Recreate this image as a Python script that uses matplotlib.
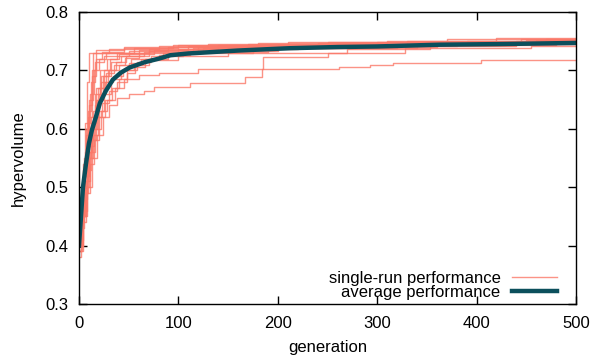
import matplotlib
matplotlib.use("Agg")
import matplotlib.pyplot as plt

plt.rcParams["font.family"] = ["Liberation Sans", "DejaVu Sans"]

# single runs: (generation, hypervolume) breakpoints, stepped
runs = [
    [(0, .40), (2, .46), (4, .53), (7, .60), (10, .65), (14, .73), (60, .735), (110, .742), (250, .748), (450, .752)],
    [(0, .41), (3, .47), (6, .55), (9, .62), (13, .70), (17, .735), (45, .740), (130, .745), (330, .750), (420, .755)],
    [(0, .39), (2, .44), (5, .50), (8, .56), (12, .61), (16, .66), (21, .70), (28, .72), (40, .728), (75, .735), (150, .742), (300, .746), (480, .750)],
    [(0, .40), (4, .45), (8, .50), (13, .55), (18, .59), (24, .62), (30, .64), (38, .652), (50, .660), (65, .664), (75, .672), (112, .678), (167, .689), (184, .703), (262, .705), (293, .709), (316, .712), (404, .718)],
    [(0, .40), (3, .45), (7, .51), (11, .56), (16, .60), (22, .63), (28, .65), (36, .67), (45, .685), (60, .692), (80, .696), (120, .702), (185, .723), (250, .730), (328, .738), (455, .742)],
    [(0, .41), (3, .46), (6, .52), (10, .57), (15, .62), (20, .66), (26, .68), (34, .69), (44, .70), (55, .71), (70, .718), (100, .724), (150, .730), (270, .737), (353, .742), (440, .748)],
    [(0, .38), (2, .43), (5, .49), (9, .55), (13, .60), (18, .65), (24, .69), (32, .715), (42, .725), (65, .732), (120, .740), (260, .745), (400, .749)],
    [(0, .42), (3, .49), (6, .56), (9, .63), (12, .68), (16, .715), (25, .725), (50, .733), (90, .740), (200, .744), (350, .748), (470, .753)],
    [(0, .40), (2, .45), (5, .51), (8, .57), (12, .62), (17, .67), (22, .69), (30, .70), (40, .71), (52, .72), (90, .73), (175, .738), (320, .744), (430, .748)],
    [(0, .39), (4, .46), (8, .53), (12, .58), (17, .62), (23, .645), (30, .665), (38, .68), (48, .70), (58, .715), (72, .725), (105, .732), (190, .740), (360, .746)],
    [(0, .41), (2, .47), (4, .54), (6, .61), (8, .68), (10, .73), (30, .737), (80, .741), (170, .745), (300, .749), (460, .752)],
    [(0, .40), (3, .46), (6, .52), (10, .58), (14, .63), (19, .67), (25, .70), (31, .72), (38, .73), (70, .737), (140, .743), (240, .747), (390, .751)],
    [(0, .40), (3, .44), (7, .49), (11, .54), (15, .58), (20, .62), (26, .65), (33, .67), (40, .685), (48, .695), (56, .705), (66, .72), (85, .73), (125, .738), (230, .743), (410, .747)],
    [(0, .41), (2, .47), (5, .55), (8, .61), (11, .66), (15, .70), (20, .72), (27, .73), (55, .738), (100, .744), (210, .749), (370, .753)],
    [(0, .39), (3, .45), (6, .50), (10, .55), (14, .59), (19, .63), (25, .66), (32, .685), (42, .70), (50, .712), (62, .72), (80, .726), (112, .733), (200, .739), (340, .744), (480, .748)],
    [(0, .40), (2, .46), (4, .52), (7, .59), (10, .64), (13, .69), (17, .72), (23, .732), (45, .738), (95, .743), (180, .747), (310, .751), (445, .754)],
    [(0, .41), (4, .48), (8, .55), (12, .60), (16, .64), (21, .67), (27, .695), (35, .71), (46, .722), (60, .73), (100, .736), (220, .741), (380, .745)],
    [(0, .40), (3, .45), (6, .51), (9, .56), (13, .61), (17, .65), (22, .68), (29, .70), (37, .715), (47, .725), (70, .733), (115, .739), (280, .744), (440, .750)],
]

# average performance
avg_gen = [0, 2, 4, 7, 10, 13, 17, 21, 27, 34, 42, 51, 66, 80, 92, 110, 130, 160, 212, 260, 300, 363, 420, 500]
avg_hv = [0.40, 0.45, 0.50, 0.54, 0.575, 0.598, 0.62, 0.644, 0.665, 0.684, 0.696, 0.705, 0.714, 0.72, 0.726,
          0.729, 0.731, 0.734, 0.738, 0.740, 0.741, 0.744, 0.745, 0.747]

run_color = "#fa7868"
avg_color = "#0b4f5c"

fig = plt.figure(figsize=(5.92, 3.62), dpi=100)
ax = fig.add_axes([79 / 592, 58 / 362, 497 / 592, 292 / 362])

for i, r in enumerate(runs):
    g = [p[0] for p in r] + [500]
    v = [p[1] for p in r] + [r[-1][1]]
    ax.plot(g, v, drawstyle="steps-post", color=run_color, lw=1.0, alpha=0.8,
            label="single-run performance" if i == 0 else None)

ax.plot(avg_gen, avg_hv, color=avg_color, lw=3.2, label="average performance")

ax.set_xlim(0, 500)
ax.set_ylim(0.3, 0.8)
ax.set_xticks([0, 100, 200, 300, 400, 500])
ax.set_yticks([0.3, 0.4, 0.5, 0.6, 0.7, 0.8])
ax.tick_params(direction="in", length=6, width=1, top=True, right=True, labelsize=12)
ax.tick_params(axis="y", pad=8)
ax.tick_params(axis="x", pad=9)
for s in ax.spines.values():
    s.set_linewidth(1.0)

ax.set_xlabel("generation", fontsize=12, labelpad=6)
ax.set_ylabel("hypervolume", fontsize=12, labelpad=14)

leg = ax.legend(loc="lower right", bbox_to_anchor=(0.962, 0.014), frameon=False, markerfirst=False,
                fontsize=12, handlelength=2.7, labelspacing=-0.05, borderaxespad=0, borderpad=0,
                handletextpad=0.7)
for t in leg.get_texts():
    t.set_ha("right")

fig.savefig("out.png", dpi=100)
